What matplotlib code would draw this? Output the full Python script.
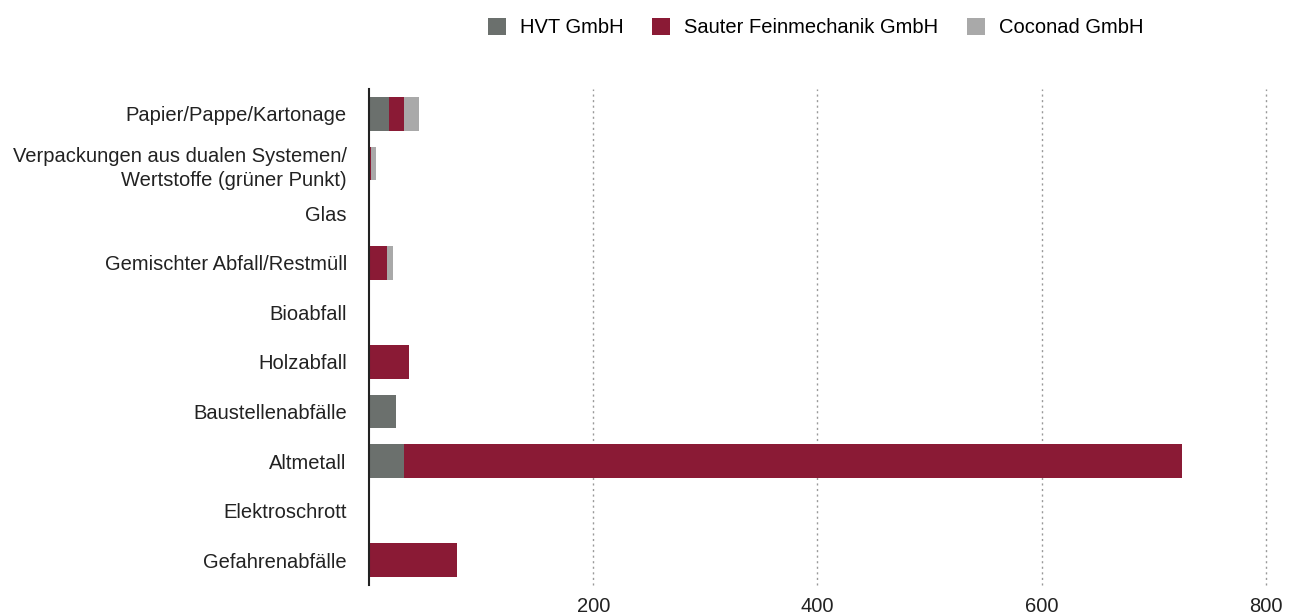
import matplotlib
matplotlib.use("Agg")
import matplotlib.pyplot as plt
import numpy as np

plt.rcParams['font.family'] = ['Liberation Sans', 'DejaVu Sans']

categories = ["Papier/Pappe/Kartonage",
              "Verpackungen aus dualen Systemen/\nWertstoffe (grüner Punkt)",
              "Glas",
              "Gemischter Abfall/Restmüll",
              "Bioabfall",
              "Holzabfall",
              "Baustellenabfälle",
              "Altmetall",
              "Elektroschrott",
              "Gefahrenabfälle"]
series_names = ["HVT GmbH", "Sauter Feinmechanik GmbH", "Coconad GmbH"]
hvt = [17.5, 0, 0, 0, 0, 0, 24, 31, 0, 0]
sauter = [13.5, 2, 0, 16, 0, 36, 0, 694, 0, 78.5]
coconad = [13.5, 4, 0, 5.5, 0, 0, 0, 0, 0, 0]
xticks = [200, 400, 600, 800]
colors = ["#6b706d", "#8a1a35", "#a9a9a9"]

fig = plt.figure(figsize=(12.97, 6.15), dpi=100)
ax = fig.add_axes([0.2845, 0.0488, 0.976 - 0.2845, 0.855 - 0.0488])

y = np.arange(len(categories))
left = np.zeros(len(categories))
handles = []
for vals, name, c in zip([hvt, sauter, coconad], series_names, colors):
    h = ax.barh(y, vals, left=left, height=0.68, color=c, label=name, zorder=3)
    handles.append(h)
    left = left + np.array(vals)

ax.set_ylim(len(categories) - 0.5, -0.5)
ax.set_xlim(0, 800)
ax.set_yticks(y)
ax.set_yticklabels(categories, fontsize=14.5, color="#222222", linespacing=1.35)
ax.set_xticks(xticks)
ax.set_xticklabels([str(t) for t in xticks], fontsize=14.5, color="#222222")
ax.tick_params(axis='both', length=0)
ax.tick_params(axis='y', pad=16)
ax.tick_params(axis='x', pad=9)
for lbl in ax.get_yticklabels():
    lbl.set_horizontalalignment('right')
    lbl.set_multialignment('right')
ax.xaxis.grid(True, linestyle=(0, (1.5, 2.5)), color="#999999", linewidth=1.0, zorder=0)
for gl in ax.get_xgridlines():
    gl.set_clip_on(False)
for s in ["top", "right", "bottom"]:
    ax.spines[s].set_visible(False)
ax.spines["left"].set_color("#222222")
ax.spines["left"].set_linewidth(1.5)
ax.spines["left"].set_zorder(4)

fig.legend(handles=handles, labels=series_names, loc="upper center",
           bbox_to_anchor=(0.629, 1.0), ncol=3, frameon=False, fontsize=14.5,
           handlelength=0.9, handleheight=0.9, columnspacing=1.4, handletextpad=0.7)

fig.savefig("out.png", dpi=100)
